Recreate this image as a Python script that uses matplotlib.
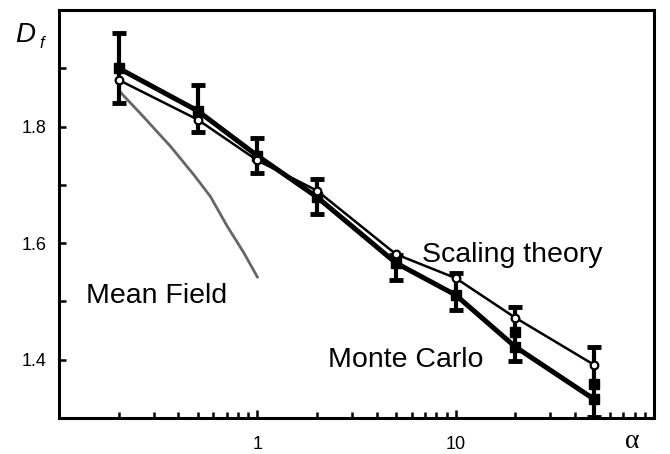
import matplotlib
matplotlib.use("Agg")
import matplotlib.pyplot as plt
from matplotlib.ticker import FixedLocator, NullFormatter, FixedFormatter
import numpy as np

plt.rcParams['font.family'] = ['Liberation Sans', 'DejaVu Sans']

alpha_vals = [0.2, 0.5, 1, 2, 5, 10, 20, 50]
mc_vals = [1.900, 1.827, 1.750, 1.679, 1.566, 1.511, 1.422, 1.332]
mc_lo = [1.840, 1.790, 1.720, 1.650, 1.537, 1.485, 1.397, 1.302]
mc_hi = [1.960, 1.872, 1.780, 1.710, 1.580, 1.549, 1.490, 1.422]
mc_extra_x = [20, 50]
mc_extra_y = [1.448, 1.359]
scaling_vals = [1.880, 1.812, 1.742, 1.690, 1.581, 1.540, 1.472, 1.391]
mf_x = [0.2, 0.268, 0.365, 0.479, 0.58, 0.705, 0.853, 1.0]
mf_y = [1.862, 1.816, 1.766, 1.717, 1.680, 1.629, 1.584, 1.542]

fig = plt.figure(figsize=(6.70, 4.54), dpi=100)
ax = fig.add_axes([59/670, 36/454, 595/670, 408/454])

ax.plot(mf_x, mf_y, color='#666666', lw=2.0, zorder=2)

mc = np.array(mc_vals)
yerr = [mc - np.array(mc_lo), np.array(mc_hi) - mc]
ax.errorbar(alpha_vals, mc_vals, yerr=yerr, fmt='none', ecolor='black',
            elinewidth=3.0, capsize=5, capthick=3.5, zorder=3)
ax.plot(alpha_vals, mc_vals, color='black', lw=3.6, marker='s', ms=6.5,
        mfc='black', mec='black', zorder=4)
ax.plot(mc_extra_x, mc_extra_y, ls='none', marker='s', ms=6.5,
        mfc='black', mec='black', zorder=4)
ax.plot(alpha_vals, scaling_vals, color='black', lw=1.8, marker='o', ms=5.5,
        mfc='white', mec='black', mew=1.6, zorder=5)

ax.set_xscale('log')
ax.set_xlim(0.1, 100)
ax.set_ylim(1.3, 2.0)

ax.xaxis.set_major_locator(FixedLocator([1, 10]))
ax.xaxis.set_major_formatter(FixedFormatter(['1', '10']))
minor_x = [m * d for d in (0.1, 1, 10) for m in range(2, 10)]
ax.xaxis.set_minor_locator(FixedLocator(minor_x))
ax.xaxis.set_minor_formatter(NullFormatter())

ax.yaxis.set_major_locator(FixedLocator([1.4, 1.6, 1.8]))
ax.yaxis.set_major_formatter(FixedFormatter(['1.4', '1.6', '1.8']))
ax.yaxis.set_minor_locator(FixedLocator([1.5, 1.7, 1.9]))

for s in ax.spines.values():
    s.set_linewidth(2.2)

ax.tick_params(axis='both', which='both', direction='in', top=False, right=False,
               width=1.8, labelsize=13)
ax.tick_params(axis='x', which='major', length=6, pad=13)
ax.tick_params(axis='x', which='minor', length=4.5)
ax.tick_params(axis='y', which='both', length=5, pad=9)

ax.text(19.3, 1.579, 'Scaling theory', fontsize=20.5, ha='center', va='center')
ax.text(5.6, 1.40, 'Monte Carlo', fontsize=20.5, ha='center', va='center')
ax.text(0.312, 1.51, 'Mean Field', fontsize=20.5, ha='center', va='center')

fig.text(15/670, 1 - 35/454, 'D', fontsize=20, ha='left', va='center', style='italic')
fig.text(39/670, 1 - 44/454, 'f', fontsize=12, ha='left', va='center', style='italic')
fig.text(632/670, 1 - 442/454, 'α', fontsize=20, ha='center', va='center',
         family='Liberation Serif')

fig.savefig('out.png', dpi=100)
